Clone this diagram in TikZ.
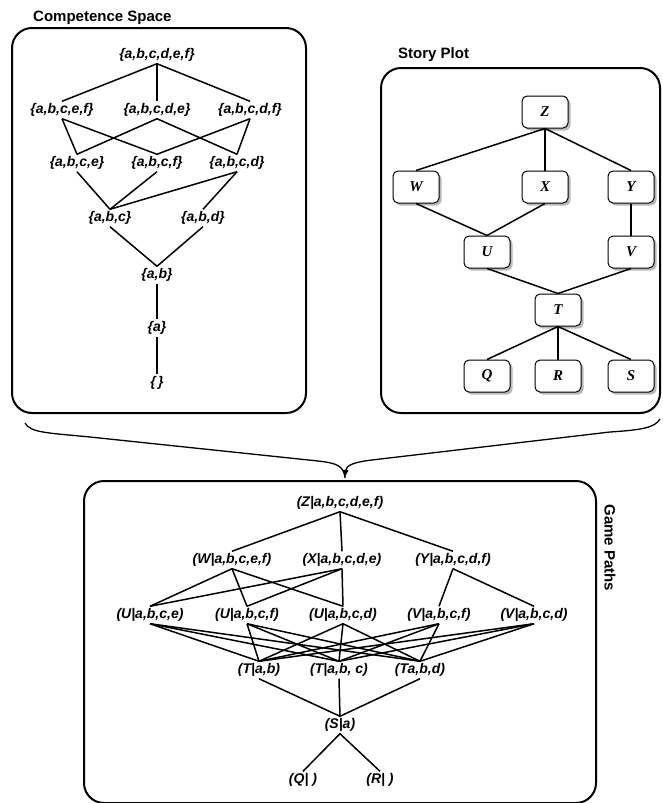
\documentclass[tikz,border=0pt]{standalone}
\usepackage{fontspec}
\setmainfont{Liberation Sans}
\newfontfamily\storyfont{Liberation Serif}
\usetikzlibrary{shadows,arrows.meta}
\begin{document}
\begin{tikzpicture}[x=1pt,y=-1pt,
  lbl/.style={font=\fontsize{14}{16}\selectfont\bfseries\itshape, inner sep=2pt},
  ttl/.style={font=\fontsize{15}{17}\selectfont\bfseries, inner sep=0pt},
  frame/.style={draw, line width=2pt, rounded corners=20pt, inner sep=0pt, anchor=north west},
  sp/.style={draw, line width=1pt, rounded corners=5pt, fill=white, minimum width=46pt, minimum height=32pt, inner sep=0pt,
    font=\fontsize{15}{17}\selectfont\storyfont\bfseries\itshape,
    drop shadow={shadow xshift=2.5pt, shadow yshift=-2.5pt, fill=gray!55, opacity=1}},
  ln/.style={line width=1.5pt},
  thk/.style={line width=2.6pt},
  cv/.style={line width=1.3pt}]
\useasboundingbox (0,0) rectangle (662,803);

% frames
\node[frame, minimum width=294pt, minimum height=385pt] (comp) at (11,27) {};
\node[frame, minimum width=279pt, minimum height=345pt] (story) at (380,67) {};
\node[frame, minimum width=512pt, minimum height=322pt] (game) at (83,480) {};

% titles
\node[ttl, anchor=west] (ct) at (33,18) {Competence Space};
\node[ttl, anchor=west] (st) at (398,55) {Story Plot};
\node[ttl, rotate=-90] (gt) at (610,548) {Game Paths};

% competence space
\node[lbl] (c0) at (157,55) {\{a,b,c,d,e,f\}};
\node[lbl] (c1) at (62,110) {\{a,b,c,e,f\}};
\node[lbl] (c2) at (157,110) {\{a,b,c,d,e\}};
\node[lbl] (c3) at (250,110) {\{a,b,c,d,f\}};
\node[lbl] (c4) at (77,163) {\{a,b,c,e\}};
\node[lbl] (c5) at (157,163) {\{a,b,c,f\}};
\node[lbl] (c6) at (237,163) {\{a,b,c,d\}};
\node[lbl] (c7) at (110,218) {\{a,b,c\}};
\node[lbl] (c8) at (203,218) {\{a,b,d\}};
\node[lbl] (c9) at (157,275) {\{a,b\}};
\node[lbl] (c10) at (157,328) {\{a\}};
\node[lbl] (c11) at (157,383) {\{\,\}};
\foreach \a/\b in {c0/c1,c0/c2,c0/c3,c1/c4,c1/c5,c2/c4,c2/c6,c3/c5,c3/c6,c4/c7,c5/c7,c6/c7,c6/c8,c7/c9,c8/c9,c9/c10,c10/c11}
  \draw[ln] (\a.south) -- (\b.north);

% story plot
\node[sp] (Z) at (545,112) {Z};
\node[sp] (W) at (416,187) {W};
\node[sp] (X) at (545,187) {X};
\node[sp] (Y) at (631,187) {Y};
\node[sp] (U) at (487,252) {U};
\node[sp] (V) at (631,252) {V};
\node[sp] (T) at (558,310) {T};
\node[sp] (Q) at (487,376) {Q};
\node[sp] (R) at (558,376) {R};
\node[sp] (S) at (631,376) {S};
\foreach \a/\b in {Z/W,Z/Y,W/U,X/U,U/T,V/T,T/Q,T/S}
  \draw[ln] (\a.south) -- (\b.north);
\foreach \a/\b in {Z/X,Y/V,T/R}
  \draw[thk] (\a.south) -- (\b.north);

% merging arrow
\coordinate (tip) at (345,478);
\draw[cv] ([shift={(14,9)}]comp.south west) .. controls (30,433) and (50,433) .. (90,437)
  -- (318,461) .. controls (335,463) and (344,465) .. (tip);
\draw[cv, -{Latex[length=8pt,width=6pt]}] ([shift={(-1,5)}]story.south east) .. controls (655,428) and (640,430) .. (610,432)
  -- (372,460) .. controls (355,462) and (346,465) .. (tip);

% game paths
\node[lbl] (g0) at (340,503) {(Z|a,b,c,d,e,f)};
\node[lbl] (gW) at (232,560) {(W|a,b,c,e,f)};
\node[lbl] (gX) at (342,560) {(X|a,b,c,d,e)};
\node[lbl] (gY) at (453,560) {(Y|a,b,c,d,f)};
\node[lbl] (gUe) at (150,615) {(U|a,b,c,e)};
\node[lbl] (gUf) at (247,615) {(U|a,b,c,f)};
\node[lbl] (gUd) at (343,615) {(U|a,b,c,d)};
\node[lbl] (gVf) at (439,615) {(V|a,b,c,f)};
\node[lbl] (gVd) at (534,615) {(V|a,b,c,d)};
\node[lbl] (gTab) at (259,670) {(T|a,b)};
\node[lbl] (gTabc) at (339,670) {(T|a,b, c)};
\node[lbl] (gTabd) at (420,670) {(Ta,b,d)};
\node[lbl] (gS) at (340,725) {(S|a)};
\node[lbl] (gQ) at (303,780) {(Q| )};
\node[lbl] (gR) at (380,780) {(R| )};
\foreach \a/\b in {g0/gW,g0/gX,g0/gY,gW/gUe,gW/gUf,gW/gUd,gX/gUe,gX/gUf,gX/gUd,gY/gVf,gY/gVd,gTab/gS,gTabc/gS,gTabd/gS,gS/gQ,gS/gR}
  \draw[ln] (\a.south) -- (\b.north);
\foreach \a in {gUe,gUf,gUd,gVf,gVd}
  \foreach \b in {gTab,gTabc,gTabd}
    \draw[ln] (\a.south) -- (\b.north);
\end{tikzpicture}
\end{document}
